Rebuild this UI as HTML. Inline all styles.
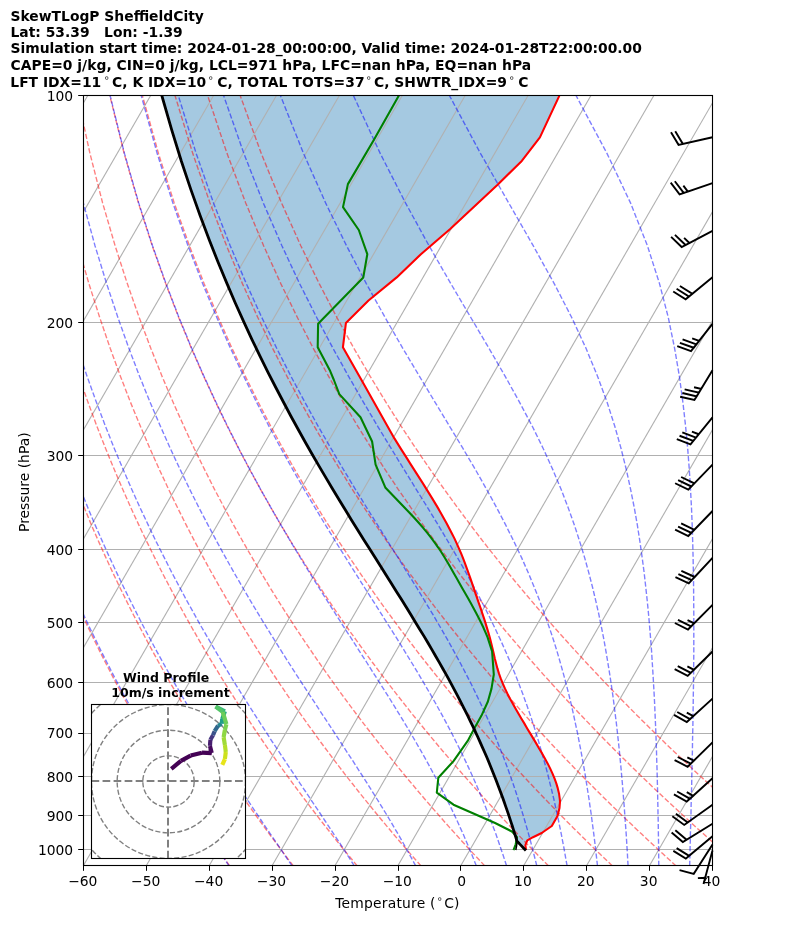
<!DOCTYPE html>
<html><head><meta charset="utf-8"><title>SkewTLogP SheffieldCity</title>
<style>html,body{margin:0;padding:0;background:#fff}svg{display:block}</style></head>
<body><svg width="794" height="937" viewBox="0 0 794 937"><defs><clipPath id="ax"><rect x="83.5" y="95.5" width="629.0" height="770.0"/></clipPath></defs>
<rect x="0" y="0" width="794" height="937" fill="#fff"/>
<g clip-path="url(#ax)">
<polygon points="525.9,850.5 523.7,848.2 521.5,845.9 519.3,843.6 517.0,841.3 515.9,837.5 514.7,833.7 513.5,829.9 512.3,826.0 511.0,822.1 509.7,818.1 508.4,814.1 507.0,810.1 505.5,805.9 504.1,801.8 502.6,797.5 501.0,793.3 499.4,788.9 497.7,784.5 496.0,780.1 494.2,775.6 492.4,771.0 490.5,766.3 488.6,761.6 486.6,756.8 484.5,752.0 482.3,747.1 480.1,742.1 477.8,737.0 475.4,731.8 473.0,726.6 470.4,721.3 467.8,715.9 465.0,710.4 462.2,704.8 459.3,699.1 456.3,693.3 453.1,687.4 449.9,681.4 446.5,675.2 443.0,669.0 439.4,662.6 435.7,656.2 431.9,649.6 427.9,642.8 423.8,635.9 419.5,628.9 415.1,621.7 410.6,614.3 406.0,606.8 401.2,599.1 396.2,591.2 391.1,583.1 385.9,574.8 380.6,566.3 375.1,557.6 369.4,548.6 363.6,539.4 357.7,529.9 351.6,520.2 345.4,510.1 339.1,499.7 332.6,489.0 326.0,477.9 319.2,466.4 312.3,454.5 305.3,442.2 298.1,429.3 290.8,416.0 283.4,402.0 275.8,387.5 268.0,372.3 260.1,356.3 252.0,339.6 243.8,321.9 235.4,303.2 226.9,283.4 218.1,262.3 209.2,239.8 200.1,215.5 190.8,189.4 181.3,161.0 171.7,129.9 161.8,95.5 559.4,95.5 559.4,95.6 539.9,137.4 521.8,160.9 497.6,184.7 450.2,229.0 420.9,254.2 396.7,277.4 368.5,300.5 345.9,323.1 342.9,347.3 361.5,380.0 394.4,438.4 397.5,443.4 400.6,448.4 403.8,453.4 407.0,458.4 410.1,463.4 413.3,468.4 416.5,473.4 419.7,478.4 422.9,483.4 426.0,488.4 429.1,493.4 432.2,498.4 435.2,503.4 438.2,508.4 441.1,513.4 443.9,518.4 446.7,523.4 449.3,528.4 451.9,533.4 454.4,538.4 456.7,543.4 458.9,548.4 461.1,553.4 463.1,558.4 465.0,563.4 466.8,568.4 468.6,573.4 470.4,578.4 472.1,583.4 473.8,588.4 475.5,593.4 477.2,598.4 478.9,603.4 480.7,608.4 482.3,613.4 484.0,618.4 485.6,623.4 487.1,628.4 488.6,633.4 490.0,638.4 491.3,643.4 492.5,648.4 493.7,653.4 494.8,658.4 496.1,663.4 497.4,668.4 498.9,673.4 500.7,678.4 502.7,683.4 504.9,688.4 507.3,693.4 509.9,698.4 512.7,703.4 515.5,708.4 518.4,713.4 521.3,718.4 524.3,723.4 527.2,728.4 530.2,733.4 533.2,738.4 536.2,743.4 539.1,748.4 542.1,753.4 544.9,758.4 547.6,763.4 550.1,768.4 552.4,773.4 554.5,778.4 556.3,783.4 557.8,788.4 559.0,793.4 559.7,798.4 560.0,801.4 559.5,808.0 557.5,815.9 551.8,826.0 541.7,833.0 533.0,837.2 527.3,840.4 525.4,845.2 526.0,850.0" fill="#1f77b4" fill-opacity="0.4" stroke="none"/>
<g stroke="#b0b0b0" stroke-width="1.11" fill="none">
<line x1="-419.70" y1="865.5" x2="24.86" y2="95.5"/>
<line x1="-356.80" y1="865.5" x2="87.76" y2="95.5"/>
<line x1="-293.90" y1="865.5" x2="150.66" y2="95.5"/>
<line x1="-231.00" y1="865.5" x2="213.56" y2="95.5"/>
<line x1="-168.10" y1="865.5" x2="276.46" y2="95.5"/>
<line x1="-105.20" y1="865.5" x2="339.36" y2="95.5"/>
<line x1="-42.30" y1="865.5" x2="402.26" y2="95.5"/>
<line x1="20.60" y1="865.5" x2="465.16" y2="95.5"/>
<line x1="83.50" y1="865.5" x2="528.06" y2="95.5"/>
<line x1="146.40" y1="865.5" x2="590.96" y2="95.5"/>
<line x1="209.30" y1="865.5" x2="653.86" y2="95.5"/>
<line x1="272.20" y1="865.5" x2="716.76" y2="95.5"/>
<line x1="335.10" y1="865.5" x2="779.66" y2="95.5"/>
<line x1="398.00" y1="865.5" x2="842.56" y2="95.5"/>
<line x1="460.90" y1="865.5" x2="905.46" y2="95.5"/>
<line x1="523.80" y1="865.5" x2="968.36" y2="95.5"/>
<line x1="586.70" y1="865.5" x2="1031.26" y2="95.5"/>
<line x1="649.60" y1="865.5" x2="1094.16" y2="95.5"/>
<line x1="712.50" y1="865.5" x2="1157.06" y2="95.5"/>
<line x1="83.5" y1="95.50" x2="712.5" y2="95.50" stroke-width="1"/>
<line x1="83.5" y1="322.50" x2="712.5" y2="322.50" stroke-width="1"/>
<line x1="83.5" y1="455.50" x2="712.5" y2="455.50" stroke-width="1"/>
<line x1="83.5" y1="549.50" x2="712.5" y2="549.50" stroke-width="1"/>
<line x1="83.5" y1="622.50" x2="712.5" y2="622.50" stroke-width="1"/>
<line x1="83.5" y1="682.50" x2="712.5" y2="682.50" stroke-width="1"/>
<line x1="83.5" y1="733.50" x2="712.5" y2="733.50" stroke-width="1"/>
<line x1="83.5" y1="776.50" x2="712.5" y2="776.50" stroke-width="1"/>
<line x1="83.5" y1="815.50" x2="712.5" y2="815.50" stroke-width="1"/>
<line x1="83.5" y1="849.50" x2="712.5" y2="849.50" stroke-width="1"/>
</g>
<g stroke="#ff0000" stroke-opacity="0.5" stroke-width="1.39" fill="none" stroke-dasharray="5.14 2.22">
<polyline points="229.7,865.9 225.3,859.8 220.9,853.6 216.4,847.2 211.9,840.7 207.4,834.1 202.8,827.4 198.2,820.5 193.5,813.5 188.8,806.3 184.0,799.0 179.2,791.5 174.3,783.8 169.4,776.0 164.4,767.9 159.4,759.6 154.3,751.2 149.2,742.5 144.0,733.5 138.7,724.3 133.4,714.9 128.0,705.1 122.5,695.1 117.0,684.8 111.4,674.1 105.7,663.0 99.9,651.6 94.1,639.7 88.2,627.5 82.2,614.7 76.1,601.4 69.9,587.5 63.6,573.1 57.2,557.9 50.8,542.1 44.2,525.4 37.6,507.8 30.8,489.3 24.0,469.6 17.0,448.7 10.0,426.3 2.8,402.3 -4.4,376.4 -11.7,348.3 -19.0,317.5 -26.3,283.6 -33.5,245.7 -40.5,202.9 -47.1,153.6 -53.1,95.5"/>
<polyline points="293.4,865.9 288.7,859.8 284.0,853.6 279.2,847.2 274.3,840.7 269.4,834.1 264.5,827.4 259.5,820.5 254.5,813.5 249.4,806.3 244.2,799.0 239.0,791.5 233.7,783.8 228.4,776.0 223.0,767.9 217.6,759.6 212.0,751.2 206.5,742.5 200.8,733.5 195.1,724.3 189.3,714.9 183.4,705.1 177.5,695.1 171.4,684.8 165.3,674.1 159.1,663.0 152.8,651.6 146.4,639.7 140.0,627.5 133.4,614.7 126.7,601.4 119.9,587.5 113.0,573.1 106.0,557.9 98.9,542.1 91.6,525.4 84.3,507.8 76.7,489.3 69.1,469.6 61.3,448.7 53.4,426.3 45.4,402.3 37.2,376.4 29.0,348.3 20.6,317.5 12.1,283.6 3.7,245.7 -4.7,202.9 -12.9,153.6 -20.5,95.5"/>
<polyline points="357.2,865.9 352.2,859.8 347.1,853.6 341.9,847.2 336.7,840.7 331.5,834.1 326.2,827.4 320.8,820.5 315.4,813.5 309.9,806.3 304.4,799.0 298.8,791.5 293.1,783.8 287.4,776.0 281.6,767.9 275.7,759.6 269.7,751.2 263.7,742.5 257.6,733.5 251.5,724.3 245.2,714.9 238.9,705.1 232.4,695.1 225.9,684.8 219.3,674.1 212.6,663.0 205.7,651.6 198.8,639.7 191.8,627.5 184.6,614.7 177.4,601.4 170.0,587.5 162.4,573.1 154.8,557.9 147.0,542.1 139.0,525.4 130.9,507.8 122.7,489.3 114.3,469.6 105.7,448.7 96.9,426.3 88.0,402.3 78.9,376.4 69.6,348.3 60.1,317.5 50.5,283.6 40.8,245.7 31.1,202.9 21.4,153.6 12.1,95.5"/>
<polyline points="421.0,865.9 415.6,859.8 410.2,853.6 404.7,847.2 399.1,840.7 393.5,834.1 387.9,827.4 382.1,820.5 376.3,813.5 370.5,806.3 364.5,799.0 358.5,791.5 352.5,783.8 346.3,776.0 340.1,767.9 333.8,759.6 327.5,751.2 321.0,742.5 314.5,733.5 307.8,724.3 301.1,714.9 294.3,705.1 287.4,695.1 280.4,684.8 273.2,674.1 266.0,663.0 258.6,651.6 251.2,639.7 243.6,627.5 235.9,614.7 228.0,601.4 220.0,587.5 211.8,573.1 203.5,557.9 195.1,542.1 186.4,525.4 177.6,507.8 168.6,489.3 159.4,469.6 150.0,448.7 140.4,426.3 130.5,402.3 120.5,376.4 110.2,348.3 99.7,317.5 88.9,283.6 77.9,245.7 66.8,202.9 55.7,153.6 44.7,95.5"/>
<polyline points="484.8,865.9 479.1,859.8 473.3,853.6 467.4,847.2 461.5,840.7 455.6,834.1 449.5,827.4 443.4,820.5 437.3,813.5 431.0,806.3 424.7,799.0 418.3,791.5 411.9,783.8 405.3,776.0 398.7,767.9 392.0,759.6 385.2,751.2 378.3,742.5 371.3,733.5 364.2,724.3 357.0,714.9 349.7,705.1 342.3,695.1 334.8,684.8 327.2,674.1 319.4,663.0 311.6,651.6 303.5,639.7 295.4,627.5 287.1,614.7 278.6,601.4 270.0,587.5 261.3,573.1 252.3,557.9 243.2,542.1 233.8,525.4 224.3,507.8 214.5,489.3 204.6,469.6 194.3,448.7 183.9,426.3 173.1,402.3 162.1,376.4 150.8,348.3 139.2,317.5 127.3,283.6 115.1,245.7 102.6,202.9 90.0,153.6 77.3,95.5"/>
<polyline points="548.6,865.9 542.5,859.8 536.4,853.6 530.2,847.2 523.9,840.7 517.6,834.1 511.2,827.4 504.7,820.5 498.2,813.5 491.6,806.3 484.9,799.0 478.1,791.5 471.2,783.8 464.3,776.0 457.2,767.9 450.1,759.6 442.9,751.2 435.6,742.5 428.1,733.5 420.6,724.3 412.9,714.9 405.2,705.1 397.3,695.1 389.3,684.8 381.2,674.1 372.9,663.0 364.5,651.6 355.9,639.7 347.2,627.5 338.3,614.7 329.3,601.4 320.1,587.5 310.7,573.1 301.1,557.9 291.2,542.1 281.2,525.4 271.0,507.8 260.5,489.3 249.7,469.6 238.7,448.7 227.3,426.3 215.7,402.3 203.7,376.4 191.4,348.3 178.7,317.5 165.7,283.6 152.2,245.7 138.4,202.9 124.2,153.6 109.8,95.5"/>
<polyline points="612.4,865.9 606.0,859.8 599.5,853.6 592.9,847.2 586.3,840.7 579.6,834.1 572.9,827.4 566.0,820.5 559.1,813.5 552.1,806.3 545.0,799.0 537.9,791.5 530.6,783.8 523.3,776.0 515.8,767.9 508.2,759.6 500.6,751.2 492.8,742.5 485.0,733.5 477.0,724.3 468.8,714.9 460.6,705.1 452.2,695.1 443.8,684.8 435.1,674.1 426.3,663.0 417.4,651.6 408.3,639.7 399.0,627.5 389.6,614.7 379.9,601.4 370.1,587.5 360.1,573.1 349.8,557.9 339.3,542.1 328.6,525.4 317.6,507.8 306.4,489.3 294.8,469.6 283.0,448.7 270.8,426.3 258.3,402.3 245.4,376.4 232.0,348.3 218.3,317.5 204.1,283.6 189.4,245.7 174.2,202.9 158.5,153.6 142.4,95.5"/>
<polyline points="676.1,865.9 669.4,859.8 662.6,853.6 655.7,847.2 648.7,840.7 641.7,834.1 634.6,827.4 627.4,820.5 620.1,813.5 612.7,806.3 605.2,799.0 597.6,791.5 590.0,783.8 582.2,776.0 574.4,767.9 566.4,759.6 558.3,751.2 550.1,742.5 541.8,733.5 533.3,724.3 524.8,714.9 516.1,705.1 507.2,695.1 498.2,684.8 489.1,674.1 479.8,663.0 470.3,651.6 460.6,639.7 450.8,627.5 440.8,614.7 430.6,601.4 420.1,587.5 409.5,573.1 398.6,557.9 387.4,542.1 376.0,525.4 364.3,507.8 352.3,489.3 340.0,469.6 327.3,448.7 314.3,426.3 300.8,402.3 287.0,376.4 272.6,348.3 257.8,317.5 242.4,283.6 226.5,245.7 210.0,202.9 192.8,153.6 175.0,95.5"/>
<polyline points="739.9,865.9 732.8,859.8 725.7,853.6 718.4,847.2 711.1,840.7 703.7,834.1 696.2,827.4 688.7,820.5 681.0,813.5 673.2,806.3 665.4,799.0 657.4,791.5 649.4,783.8 641.2,776.0 632.9,767.9 624.5,759.6 616.0,751.2 607.4,742.5 598.6,733.5 589.7,724.3 580.7,714.9 571.5,705.1 562.2,695.1 552.7,684.8 543.0,674.1 533.2,663.0 523.2,651.6 513.0,639.7 502.6,627.5 492.0,614.7 481.2,601.4 470.2,587.5 458.9,573.1 447.3,557.9 435.5,542.1 423.4,525.4 411.0,507.8 398.2,489.3 385.1,469.6 371.7,448.7 357.8,426.3 343.4,402.3 328.6,376.4 313.3,348.3 297.4,317.5 280.8,283.6 263.6,245.7 245.7,202.9 227.1,153.6 207.6,95.5"/>
<polyline points="803.7,865.9 796.3,859.8 788.8,853.6 781.2,847.2 773.5,840.7 765.8,834.1 757.9,827.4 750.0,820.5 741.9,813.5 733.8,806.3 725.6,799.0 717.2,791.5 708.7,783.8 700.2,776.0 691.5,767.9 682.7,759.6 673.7,751.2 664.6,742.5 655.4,733.5 646.1,724.3 636.6,714.9 626.9,705.1 617.1,695.1 607.1,684.8 597.0,674.1 586.6,663.0 576.1,651.6 565.4,639.7 554.4,627.5 543.3,614.7 531.9,601.4 520.2,587.5 508.3,573.1 496.1,557.9 483.6,542.1 470.8,525.4 457.7,507.8 444.2,489.3 430.3,469.6 416.0,448.7 401.2,426.3 386.0,402.3 370.2,376.4 353.9,348.3 336.9,317.5 319.2,283.6 300.8,245.7 281.5,202.9 261.3,153.6 240.2,95.5"/>
</g>
<g stroke="#0000ff" stroke-opacity="0.5" stroke-width="1.39" fill="none" stroke-dasharray="5.14 2.22">
<polyline points="229.1,865.9 225.0,859.8 220.8,853.6 216.5,847.2 212.2,840.7 207.8,834.1 203.4,827.4 198.9,820.5 194.3,813.5 189.7,806.3 185.1,799.0 180.3,791.5 175.5,783.8 170.7,776.0 165.7,767.9 160.8,759.6 155.7,751.2 150.6,742.5 145.4,733.5 140.2,724.3 134.8,714.9 129.5,705.1 124.0,695.1 118.5,684.8 112.9,674.1 107.2,663.0 101.4,651.6 95.6,639.7 89.6,627.5 83.6,614.7 77.5,601.4 71.3,587.5 65.0,573.1 58.6,557.9 52.2,542.1 45.6,525.4 38.9,507.8 32.1,489.3 25.2,469.6 18.3,448.7 11.2,426.3 4.0,402.3 -3.2,376.4 -10.5,348.3 -17.8,317.5 -25.2,283.6 -32.4,245.7 -39.5,202.9 -46.2,153.6 -52.1,95.5"/>
<polyline points="292.1,865.9 287.9,859.8 283.7,853.6 279.4,847.2 275.0,840.7 270.5,834.1 265.9,827.4 261.3,820.5 256.6,813.5 251.8,806.3 246.9,799.0 241.9,791.5 236.8,783.8 231.7,776.0 226.4,767.9 221.1,759.6 215.7,751.2 210.2,742.5 204.7,733.5 199.0,724.3 193.3,714.9 187.4,705.1 181.5,695.1 175.5,684.8 169.4,674.1 163.2,663.0 156.9,651.6 150.5,639.7 144.0,627.5 137.4,614.7 130.7,601.4 123.8,587.5 116.9,573.1 109.8,557.9 102.7,542.1 95.3,525.4 87.9,507.8 80.4,489.3 72.7,469.6 64.8,448.7 56.8,426.3 48.7,402.3 40.5,376.4 32.1,348.3 23.7,317.5 15.1,283.6 6.6,245.7 -1.9,202.9 -10.2,153.6 -17.9,95.5"/>
<polyline points="354.3,865.9 350.5,859.8 346.5,853.6 342.4,847.2 338.2,840.7 333.8,834.1 329.4,827.4 324.8,820.5 320.2,813.5 315.4,806.3 310.5,799.0 305.5,791.5 300.3,783.8 295.1,776.0 289.7,767.9 284.2,759.6 278.6,751.2 272.8,742.5 267.0,733.5 261.0,724.3 254.9,714.9 248.7,705.1 242.4,695.1 235.9,684.8 229.3,674.1 222.6,663.0 215.8,651.6 208.9,639.7 201.8,627.5 194.6,614.7 187.2,601.4 179.8,587.5 172.1,573.1 164.4,557.9 156.4,542.1 148.4,525.4 140.1,507.8 131.7,489.3 123.2,469.6 114.4,448.7 105.5,426.3 96.4,402.3 87.1,376.4 77.6,348.3 67.9,317.5 58.1,283.6 48.1,245.7 38.1,202.9 28.2,153.6 18.5,95.5"/>
<polyline points="415.7,865.9 412.4,859.8 409.0,853.6 405.5,847.2 401.9,840.7 398.1,834.1 394.1,827.4 390.1,820.5 385.9,813.5 381.5,806.3 377.0,799.0 372.3,791.5 367.5,783.8 362.5,776.0 357.3,767.9 352.0,759.6 346.4,751.2 340.8,742.5 334.9,733.5 328.9,724.3 322.6,714.9 316.3,705.1 309.7,695.1 303.0,684.8 296.0,674.1 288.9,663.0 281.7,651.6 274.2,639.7 266.6,627.5 258.8,614.7 250.8,601.4 242.7,587.5 234.3,573.1 225.8,557.9 217.1,542.1 208.2,525.4 199.0,507.8 189.7,489.3 180.2,469.6 170.4,448.7 160.4,426.3 150.1,402.3 139.6,376.4 128.9,348.3 117.9,317.5 106.6,283.6 95.0,245.7 83.3,202.9 71.5,153.6 59.7,95.5"/>
<polyline points="476.4,865.9 473.9,859.8 471.4,853.6 468.8,847.2 466.0,840.7 463.2,834.1 460.1,827.4 457.0,820.5 453.7,813.5 450.3,806.3 446.7,799.0 442.9,791.5 438.9,783.8 434.8,776.0 430.4,767.9 425.9,759.6 421.1,751.2 416.1,742.5 410.9,733.5 405.4,724.3 399.7,714.9 393.7,705.1 387.5,695.1 380.9,684.8 374.1,674.1 367.1,663.0 359.7,651.6 352.1,639.7 344.2,627.5 336.0,614.7 327.6,601.4 318.8,587.5 309.8,573.1 300.5,557.9 291.0,542.1 281.1,525.4 271.0,507.8 260.6,489.3 249.9,469.6 238.9,448.7 227.6,426.3 216.0,402.3 204.0,376.4 191.7,348.3 179.0,317.5 166.0,283.6 152.5,245.7 138.7,202.9 124.5,153.6 110.1,95.5"/>
<polyline points="506.6,865.9 504.6,859.8 502.6,853.6 500.4,847.2 498.2,840.7 495.9,834.1 493.4,827.4 490.8,820.5 488.1,813.5 485.3,806.3 482.3,799.0 479.2,791.5 475.9,783.8 472.4,776.0 468.7,767.9 464.8,759.6 460.8,751.2 456.4,742.5 451.9,733.5 447.0,724.3 442.0,714.9 436.6,705.1 430.9,695.1 424.9,684.8 418.6,674.1 411.9,663.0 404.9,651.6 397.6,639.7 389.9,627.5 381.8,614.7 373.4,601.4 364.5,587.5 355.4,573.1 345.8,557.9 335.9,542.1 325.7,525.4 315.1,507.8 304.1,489.3 292.8,469.6 281.1,448.7 269.0,426.3 256.6,402.3 243.8,376.4 230.5,348.3 216.8,317.5 202.6,283.6 188.0,245.7 172.8,202.9 157.2,153.6 141.2,95.5"/>
<polyline points="536.8,865.9 535.3,859.8 533.7,853.6 532.1,847.2 530.4,840.7 528.6,834.1 526.7,827.4 524.7,820.5 522.6,813.5 520.4,806.3 518.1,799.0 515.7,791.5 513.1,783.8 510.4,776.0 507.5,767.9 504.4,759.6 501.1,751.2 497.7,742.5 494.0,733.5 490.1,724.3 485.9,714.9 481.4,705.1 476.6,695.1 471.6,684.8 466.1,674.1 460.3,663.0 454.1,651.6 447.5,639.7 440.5,627.5 433.0,614.7 425.0,601.4 416.6,587.5 407.6,573.1 398.2,557.9 388.2,542.1 377.8,525.4 366.8,507.8 355.4,489.3 343.5,469.6 331.1,448.7 318.2,426.3 304.9,402.3 291.0,376.4 276.7,348.3 261.8,317.5 246.3,283.6 230.2,245.7 213.5,202.9 196.2,153.6 178.3,95.5"/>
<polyline points="567.1,865.9 566.0,859.8 564.9,853.6 563.8,847.2 562.5,840.7 561.3,834.1 559.9,827.4 558.5,820.5 557.0,813.5 555.4,806.3 553.8,799.0 552.0,791.5 550.1,783.8 548.2,776.0 546.1,767.9 543.8,759.6 541.4,751.2 538.9,742.5 536.2,733.5 533.3,724.3 530.2,714.9 526.8,705.1 523.2,695.1 519.3,684.8 515.1,674.1 510.6,663.0 505.7,651.6 500.4,639.7 494.6,627.5 488.4,614.7 481.6,601.4 474.2,587.5 466.3,573.1 457.6,557.9 448.4,542.1 438.4,525.4 427.7,507.8 416.2,489.3 404.1,469.6 391.3,448.7 377.7,426.3 363.5,402.3 348.6,376.4 333.0,348.3 316.7,317.5 299.6,283.6 281.9,245.7 263.3,202.9 243.9,153.6 223.6,95.5"/>
<polyline points="597.5,865.9 596.8,859.8 596.1,853.6 595.4,847.2 594.6,840.7 593.8,834.1 592.9,827.4 592.0,820.5 591.1,813.5 590.0,806.3 589.0,799.0 587.8,791.5 586.6,783.8 585.4,776.0 584.0,767.9 582.5,759.6 581.0,751.2 579.3,742.5 577.6,733.5 575.6,724.3 573.6,714.9 571.4,705.1 569.0,695.1 566.4,684.8 563.5,674.1 560.4,663.0 557.1,651.6 553.4,639.7 549.3,627.5 544.8,614.7 539.9,601.4 534.4,587.5 528.4,573.1 521.7,557.9 514.2,542.1 505.9,525.4 496.7,507.8 486.6,489.3 475.4,469.6 463.1,448.7 449.6,426.3 435.1,402.3 419.5,376.4 402.8,348.3 385.1,317.5 366.3,283.6 346.5,245.7 325.6,202.9 303.6,153.6 280.4,95.5"/>
<polyline points="628.1,865.9 627.7,859.8 627.4,853.6 627.0,847.2 626.6,840.7 626.2,834.1 625.7,827.4 625.2,820.5 624.7,813.5 624.2,806.3 623.6,799.0 623.0,791.5 622.4,783.8 621.7,776.0 621.0,767.9 620.2,759.6 619.4,751.2 618.5,742.5 617.5,733.5 616.5,724.3 615.3,714.9 614.1,705.1 612.8,695.1 611.3,684.8 609.7,674.1 607.9,663.0 606.0,651.6 603.9,639.7 601.5,627.5 598.9,614.7 595.9,601.4 592.6,587.5 588.9,573.1 584.7,557.9 579.9,542.1 574.5,525.4 568.2,507.8 561.1,489.3 552.8,469.6 543.3,448.7 532.3,426.3 519.6,402.3 505.2,376.4 489.0,348.3 470.8,317.5 450.8,283.6 429.0,245.7 405.5,202.9 380.3,153.6 353.4,95.5"/>
<polyline points="658.8,865.9 658.7,859.8 658.7,853.6 658.6,847.2 658.5,840.7 658.4,834.1 658.3,827.4 658.2,820.5 658.0,813.5 657.9,806.3 657.7,799.0 657.6,791.5 657.4,783.8 657.2,776.0 657.0,767.9 656.7,759.6 656.5,751.2 656.2,742.5 655.9,733.5 655.5,724.3 655.1,714.9 654.7,705.1 654.2,695.1 653.6,684.8 653.0,674.1 652.3,663.0 651.6,651.6 650.7,639.7 649.7,627.5 648.6,614.7 647.3,601.4 645.8,587.5 644.2,573.1 642.2,557.9 640.0,542.1 637.4,525.4 634.3,507.8 630.6,489.3 626.3,469.6 621.1,448.7 614.8,426.3 607.1,402.3 597.6,376.4 586.0,348.3 571.7,317.5 554.2,283.6 533.2,245.7 508.7,202.9 480.6,153.6 449.4,95.5"/>
<polyline points="689.7,865.9 689.8,859.8 690.0,853.6 690.1,847.2 690.3,840.7 690.4,834.1 690.6,827.4 690.8,820.5 691.0,813.5 691.1,806.3 691.3,799.0 691.5,791.5 691.7,783.8 691.8,776.0 692.0,767.9 692.2,759.6 692.4,751.2 692.5,742.5 692.7,733.5 692.9,724.3 693.0,714.9 693.2,705.1 693.3,695.1 693.5,684.8 693.6,674.1 693.7,663.0 693.8,651.6 693.8,639.7 693.8,627.5 693.8,614.7 693.7,601.4 693.6,587.5 693.4,573.1 693.1,557.9 692.7,542.1 692.2,525.4 691.5,507.8 690.5,489.3 689.3,469.6 687.7,448.7 685.6,426.3 682.9,402.3 679.4,376.4 674.6,348.3 668.3,317.5 659.5,283.6 647.4,245.7 630.5,202.9 607.1,153.6 576.0,95.5"/>
<polyline points="720.6,865.9 721.0,859.8 721.3,853.6 721.7,847.2 722.0,840.7 722.4,834.1 722.8,827.4 723.1,820.5 723.5,813.5 724.0,806.3 724.4,799.0 724.8,791.5 725.3,783.8 725.7,776.0 726.2,767.9 726.7,759.6 727.2,751.2 727.7,742.5 728.3,733.5 728.8,724.3 729.4,714.9 730.0,705.1 730.6,695.1 731.2,684.8 731.8,674.1 732.5,663.0 733.2,651.6 733.9,639.7 734.6,627.5 735.3,614.7 736.1,601.4 736.8,587.5 737.6,573.1 738.4,557.9 739.2,542.1 740.0,525.4 740.9,507.8 741.6,489.3 742.4,469.6 743.1,448.7 743.7,426.3 744.3,402.3 744.6,376.4 744.6,348.3 744.1,317.5 742.9,283.6 740.6,245.7 736.4,202.9 728.8,153.6 715.1,95.5"/>
<polyline points="751.7,865.9 752.2,859.8 752.7,853.6 753.2,847.2 753.7,840.7 754.2,834.1 754.7,827.4 755.3,820.5 755.9,813.5 756.4,806.3 757.1,799.0 757.7,791.5 758.3,783.8 759.0,776.0 759.7,767.9 760.4,759.6 761.2,751.2 761.9,742.5 762.7,733.5 763.6,724.3 764.4,714.9 765.3,705.1 766.2,695.1 767.2,684.8 768.2,674.1 769.2,663.0 770.3,651.6 771.5,639.7 772.7,627.5 773.9,614.7 775.2,601.4 776.6,587.5 778.0,573.1 779.5,557.9 781.1,542.1 782.8,525.4 784.5,507.8 786.4,489.3 788.3,469.6 790.4,448.7 792.6,426.3 794.9,402.3 797.4,376.4 800.0,348.3 802.8,317.5 805.6,283.6 808.5,245.7 811.4,202.9 813.9,153.6 815.5,95.5"/>
<polyline points="782.9,865.9 783.5,859.8 784.1,853.6 784.7,847.2 785.3,840.7 785.9,834.1 786.6,827.4 787.2,820.5 787.9,813.5 788.6,806.3 789.4,799.0 790.2,791.5 790.9,783.8 791.8,776.0 792.6,767.9 793.5,759.6 794.4,751.2 795.3,742.5 796.3,733.5 797.3,724.3 798.4,714.9 799.5,705.1 800.7,695.1 801.9,684.8 803.1,674.1 804.4,663.0 805.8,651.6 807.2,639.7 808.7,627.5 810.3,614.7 812.0,601.4 813.7,587.5 815.6,573.1 817.5,557.9 819.6,542.1 821.8,525.4 824.1,507.8 826.6,489.3 829.3,469.6 832.2,448.7 835.3,426.3 838.7,402.3 842.4,376.4 846.4,348.3 850.8,317.5 855.7,283.6 861.2,245.7 867.4,202.9 874.4,153.6 882.5,95.5"/>
</g>
<polyline points="559.4,95.6 539.9,137.4 521.8,160.9 497.6,184.7 450.2,229.0 420.9,254.2 396.7,277.4 368.5,300.5 345.9,323.1 342.9,347.3 361.5,380.0 394.4,438.4 397.5,443.4 400.6,448.4 403.8,453.4 407.0,458.4 410.1,463.4 413.3,468.4 416.5,473.4 419.7,478.4 422.9,483.4 426.0,488.4 429.1,493.4 432.2,498.4 435.2,503.4 438.2,508.4 441.1,513.4 443.9,518.4 446.7,523.4 449.3,528.4 451.9,533.4 454.4,538.4 456.7,543.4 458.9,548.4 461.1,553.4 463.1,558.4 465.0,563.4 466.8,568.4 468.6,573.4 470.4,578.4 472.1,583.4 473.8,588.4 475.5,593.4 477.2,598.4 478.9,603.4 480.7,608.4 482.3,613.4 484.0,618.4 485.6,623.4 487.1,628.4 488.6,633.4 490.0,638.4 491.3,643.4 492.5,648.4 493.7,653.4 494.8,658.4 496.1,663.4 497.4,668.4 498.9,673.4 500.7,678.4 502.7,683.4 504.9,688.4 507.3,693.4 509.9,698.4 512.7,703.4 515.5,708.4 518.4,713.4 521.3,718.4 524.3,723.4 527.2,728.4 530.2,733.4 533.2,738.4 536.2,743.4 539.1,748.4 542.1,753.4 544.9,758.4 547.6,763.4 550.1,768.4 552.4,773.4 554.5,778.4 556.3,783.4 557.8,788.4 559.0,793.4 559.7,798.4 560.0,801.4 559.5,808.0 557.5,815.9 551.8,826.0 541.7,833.0 533.0,837.2 527.3,840.4 525.4,845.2 526.0,850.0" fill="none" stroke="#ff0000" stroke-width="2.08" stroke-linejoin="round"/>
<polyline points="398.9,95.5 373.8,139.9 347.9,184.1 343.0,207.1 358.8,230.0 367.3,254.2 363.3,277.4 318.1,323.7 317.7,347.3 330.2,371.1 333.9,380.0 339.3,394.1 360.5,417.3 372.1,441.5 375.6,464.6 385.5,487.8 390.3,492.8 395.1,497.8 399.9,502.8 404.7,507.8 409.5,512.8 414.2,517.8 418.7,522.8 423.1,527.8 427.3,532.8 431.2,537.8 434.9,542.8 438.4,547.8 441.7,552.8 444.8,557.8 447.8,562.8 450.7,567.8 453.5,572.8 456.4,577.8 459.2,582.8 462.0,587.8 464.9,592.8 467.8,597.8 470.6,602.8 473.3,607.8 476.0,612.8 478.6,617.8 481.1,622.8 483.5,627.8 485.7,632.8 487.6,637.4 492.1,651.5 493.8,674.5 491.5,688.6 487.9,701.5 481.5,715.6 475.1,727.1 467.7,740.9 453.5,761.1 438.3,777.8 436.8,792.6 453.5,804.7 495.1,823.0 512.3,831.7 517.0,837.2 515.7,844.3 513.5,850.2" fill="none" stroke="#008000" stroke-width="2.08" stroke-linejoin="round"/>
<polyline points="525.9,850.5 523.7,848.2 521.5,845.9 519.3,843.6 517.0,841.3 515.9,837.5 514.7,833.7 513.5,829.9 512.3,826.0 511.0,822.1 509.7,818.1 508.4,814.1 507.0,810.1 505.5,805.9 504.1,801.8 502.6,797.5 501.0,793.3 499.4,788.9 497.7,784.5 496.0,780.1 494.2,775.6 492.4,771.0 490.5,766.3 488.6,761.6 486.6,756.8 484.5,752.0 482.3,747.1 480.1,742.1 477.8,737.0 475.4,731.8 473.0,726.6 470.4,721.3 467.8,715.9 465.0,710.4 462.2,704.8 459.3,699.1 456.3,693.3 453.1,687.4 449.9,681.4 446.5,675.2 443.0,669.0 439.4,662.6 435.7,656.2 431.9,649.6 427.9,642.8 423.8,635.9 419.5,628.9 415.1,621.7 410.6,614.3 406.0,606.8 401.2,599.1 396.2,591.2 391.1,583.1 385.9,574.8 380.6,566.3 375.1,557.6 369.4,548.6 363.6,539.4 357.7,529.9 351.6,520.2 345.4,510.1 339.1,499.7 332.6,489.0 326.0,477.9 319.2,466.4 312.3,454.5 305.3,442.2 298.1,429.3 290.8,416.0 283.4,402.0 275.8,387.5 268.0,372.3 260.1,356.3 252.0,339.6 243.8,321.9 235.4,303.2 226.9,283.4 218.1,262.3 209.2,239.8 200.1,215.5 190.8,189.4 181.3,161.0 171.7,129.9 161.8,95.5" fill="none" stroke="#000" stroke-width="2.78" stroke-linejoin="round" stroke-linecap="butt"/>
<line x1="517.3" y1="841.5" x2="515.8" y2="850.0" stroke="#000" stroke-width="1.5"/>
</g>
<rect x="83.5" y="95.5" width="629.0" height="770.0" fill="none" stroke="#000" stroke-width="1.11"/>
<g stroke="#000" stroke-width="1.11">
<line x1="78.20" y1="95.50" x2="83.5" y2="95.50" stroke-width="1"/>
<line x1="78.20" y1="322.50" x2="83.5" y2="322.50" stroke-width="1"/>
<line x1="78.20" y1="455.50" x2="83.5" y2="455.50" stroke-width="1"/>
<line x1="78.20" y1="549.50" x2="83.5" y2="549.50" stroke-width="1"/>
<line x1="78.20" y1="622.50" x2="83.5" y2="622.50" stroke-width="1"/>
<line x1="78.20" y1="682.50" x2="83.5" y2="682.50" stroke-width="1"/>
<line x1="78.20" y1="733.50" x2="83.5" y2="733.50" stroke-width="1"/>
<line x1="78.20" y1="776.50" x2="83.5" y2="776.50" stroke-width="1"/>
<line x1="78.20" y1="815.50" x2="83.5" y2="815.50" stroke-width="1"/>
<line x1="78.20" y1="849.50" x2="83.5" y2="849.50" stroke-width="1"/>
<line x1="83.50" y1="865.5" x2="83.50" y2="870.80" stroke-width="1"/>
<line x1="146.50" y1="865.5" x2="146.50" y2="870.80" stroke-width="1"/>
<line x1="209.50" y1="865.5" x2="209.50" y2="870.80" stroke-width="1"/>
<line x1="272.50" y1="865.5" x2="272.50" y2="870.80" stroke-width="1"/>
<line x1="335.50" y1="865.5" x2="335.50" y2="870.80" stroke-width="1"/>
<line x1="398.50" y1="865.5" x2="398.50" y2="870.80" stroke-width="1"/>
<line x1="460.50" y1="865.5" x2="460.50" y2="870.80" stroke-width="1"/>
<line x1="523.50" y1="865.5" x2="523.50" y2="870.80" stroke-width="1"/>
<line x1="586.50" y1="865.5" x2="586.50" y2="870.80" stroke-width="1"/>
<line x1="649.50" y1="865.5" x2="649.50" y2="870.80" stroke-width="1"/>
<line x1="712.50" y1="865.5" x2="712.50" y2="870.80" stroke-width="1"/>
</g>
<g font-family="'DejaVu Sans', 'Liberation Sans', sans-serif" font-size="13.89" fill="#000">
<text x="73.20" y="100.77" text-anchor="end">100</text>
<text x="73.20" y="327.87" text-anchor="end">200</text>
<text x="73.20" y="460.71" text-anchor="end">300</text>
<text x="73.20" y="554.96" text-anchor="end">400</text>
<text x="73.20" y="628.07" text-anchor="end">500</text>
<text x="73.20" y="687.81" text-anchor="end">600</text>
<text x="73.20" y="738.31" text-anchor="end">700</text>
<text x="73.20" y="782.06" text-anchor="end">800</text>
<text x="73.20" y="820.65" text-anchor="end">900</text>
<text x="73.20" y="855.17" text-anchor="end">1000</text>
<text x="82.80" y="886.22" text-anchor="middle">−60</text>
<text x="145.70" y="886.22" text-anchor="middle">−50</text>
<text x="208.60" y="886.22" text-anchor="middle">−40</text>
<text x="271.50" y="886.22" text-anchor="middle">−30</text>
<text x="334.40" y="886.22" text-anchor="middle">−20</text>
<text x="397.30" y="886.22" text-anchor="middle">−10</text>
<text x="461.60" y="886.22" text-anchor="middle">0</text>
<text x="522.90" y="886.22" text-anchor="middle">10</text>
<text x="585.80" y="886.22" text-anchor="middle">20</text>
<text x="648.70" y="886.22" text-anchor="middle">30</text>
<text x="711.60" y="886.22" text-anchor="middle">40</text>
<text x="335.3" y="907.6" textLength="100.2" lengthAdjust="spacing">Temperature (</text><text x="436.86" y="901.9" font-size="9.72">∘</text><text x="444.2" y="907.6">C)</text>
<text transform="translate(29.3,482.2) rotate(-90)" text-anchor="middle">Pressure (hPa)</text>
</g>
<g stroke="#000" stroke-width="1.9" fill="none" stroke-linejoin="miter" stroke-miterlimit="4" stroke-linecap="butt">
<path d="M712.50,137.20L678.55,144.81L678.55,144.81L671.00,132.24L678.55,144.81L682.80,143.86L675.24,131.29L682.80,143.86L712.50,137.20"/>
<path d="M712.50,183.10L679.57,194.34L679.57,194.34L670.71,182.66L679.57,194.34L683.69,192.93L674.82,181.25L683.69,192.93L687.81,191.53L683.37,185.69L687.81,191.53L712.50,183.10"/>
<path d="M712.50,230.90L681.67,247.02L681.67,247.02L671.13,236.83L681.67,247.02L685.53,245.01L674.98,234.82L685.53,245.01L689.38,242.99L684.11,237.90L689.38,242.99L712.50,230.90"/>
<path d="M712.50,277.20L685.64,299.31L685.64,299.31L673.23,291.51L685.64,299.31L689.00,296.55L676.59,288.74L689.00,296.55L692.36,293.78L679.94,285.98L692.36,293.78L712.50,277.20"/>
<path d="M712.50,323.80L691.02,351.17L691.02,351.17L677.22,346.22L691.02,351.17L693.71,347.75L679.91,342.79L693.71,347.75L696.39,344.33L682.59,339.37L696.39,344.33L699.08,340.91L692.18,338.43L699.08,340.91L712.50,323.80"/>
<path d="M712.50,370.30L694.42,400.02L694.42,400.02L680.13,396.74L694.42,400.02L696.68,396.31L682.39,393.03L696.68,396.31L698.94,392.59L684.65,389.31L698.94,392.59L701.20,388.88L694.05,387.24L701.20,388.88L712.50,370.30"/>
<path d="M712.50,417.40L690.50,444.35L690.50,444.35L676.79,439.13L690.50,444.35L693.25,440.98L679.54,435.76L693.25,440.98L696.00,437.61L682.30,432.39L696.00,437.61L698.75,434.24L691.90,431.63L698.75,434.24L712.50,417.40"/>
<path d="M712.50,464.60L688.31,489.61L688.31,489.61L675.10,483.26L688.31,489.61L691.34,486.48L678.12,480.13L691.34,486.48L694.36,483.36L681.14,477.00L694.36,483.36L712.50,464.60"/>
<path d="M712.50,511.00L688.31,536.00L688.31,536.00L675.09,529.64L688.31,536.00L691.33,532.88L678.12,526.52L691.33,532.88L694.35,529.75L681.14,523.39L694.35,529.75L712.50,511.00"/>
<path d="M712.50,557.90L688.77,583.34L688.77,583.34L675.44,577.23L688.77,583.34L691.74,580.16L678.41,574.05L691.74,580.16L694.70,576.98L681.38,570.87L694.70,576.98L712.50,557.90"/>
<path d="M712.50,604.80L688.00,629.50L688.00,629.50L674.87,622.98L688.00,629.50L691.06,626.41L677.93,619.90L691.06,626.41L694.13,623.33L687.56,620.07L694.13,623.33L712.50,604.80"/>
<path d="M712.50,651.50L687.70,675.90L687.70,675.90L674.65,669.22L687.70,675.90L690.80,672.85L677.75,666.17L690.80,672.85L693.90,669.80L687.37,666.46L693.90,669.80L712.50,651.50"/>
<path d="M712.50,698.60L686.80,722.05L686.80,722.05L674.01,714.89L686.80,722.05L690.02,719.12L677.22,711.96L690.02,719.12L693.23,716.19L686.83,712.61L693.23,716.19L712.50,698.60"/>
<path d="M712.50,742.40L687.65,766.75L687.65,766.75L674.61,760.04L687.65,766.75L690.75,763.70L677.71,757.00L690.75,763.70L693.86,760.66L687.34,757.31L693.86,760.66L712.50,742.40"/>
<path d="M712.50,778.30L686.71,801.65L686.71,801.65L673.94,794.43L686.71,801.65L689.93,798.73L677.17,791.51L689.93,798.73L693.16,795.81L686.77,792.20L693.16,795.81L712.50,778.30"/>
<path d="M712.50,804.70L684.20,824.94L684.20,824.94L672.35,816.31L684.20,824.94L687.74,822.41L675.89,813.78L687.74,822.41L712.50,804.70"/>
<path d="M712.50,823.80L682.83,841.97L682.83,841.97L671.62,832.52L682.83,841.97L686.54,839.70L675.33,830.25L686.54,839.70L712.50,823.80"/>
<path d="M712.50,836.30L685.81,858.61L685.81,858.61L673.34,850.90L685.81,858.61L689.14,855.82L676.67,848.11L689.14,855.82L712.50,836.30"/>
<path d="M712.50,844.50L693.74,873.80L693.74,873.80L679.53,870.18L693.74,873.80L712.50,844.50"/>
<path d="M712.50,850.40L703.51,884.01L705.20,877.71L697.88,878.14L705.20,877.71L712.50,850.40"/>
</g>
<defs><clipPath id="in"><rect x="91.5" y="704.5" width="154.0" height="154.0"/></clipPath></defs>
<rect x="91.5" y="704.5" width="154.0" height="154.0" fill="#fff"/>
<g clip-path="url(#in)">
<circle transform="translate(168.50,781.50) scale(1,-1)" cx="0" cy="0" r="25.67" fill="none" stroke="#808080" stroke-width="1.39" stroke-dasharray="5.14 2.22"/>
<circle transform="translate(168.50,781.50) scale(1,-1)" cx="0" cy="0" r="51.33" fill="none" stroke="#808080" stroke-width="1.39" stroke-dasharray="5.14 2.22"/>
<circle transform="translate(168.50,781.50) scale(1,-1)" cx="0" cy="0" r="77.00" fill="none" stroke="#808080" stroke-width="1.39" stroke-dasharray="5.14 2.22"/>
<circle transform="translate(168.50,781.50) scale(1,-1)" cx="0" cy="0" r="102.67" fill="none" stroke="#808080" stroke-width="1.39" stroke-dasharray="5.14 2.22"/>
<line x1="168.00" y1="858.5" x2="168.00" y2="704.5" stroke="#808080" stroke-width="2" stroke-dasharray="7.71 3.33"/>
<line x1="91.5" y1="781.00" x2="245.5" y2="781.00" stroke="#808080" stroke-width="2" stroke-dasharray="7.71 3.33"/>
<line x1="171.3" y1="768.8" x2="180.9" y2="760.9" stroke="#440154" stroke-width="4.17" stroke-linecap="butt"/>
<line x1="180.9" y1="760.9" x2="190.6" y2="755.6" stroke="#440154" stroke-width="4.17" stroke-linecap="butt"/>
<line x1="190.6" y1="755.6" x2="202.0" y2="752.7" stroke="#440154" stroke-width="4.17" stroke-linecap="butt"/>
<line x1="202.0" y1="752.7" x2="211.7" y2="753.1" stroke="#440154" stroke-width="4.17" stroke-linecap="butt"/>
<line x1="211.7" y1="753.1" x2="210.0" y2="745.9" stroke="#46085c" stroke-width="4.17" stroke-linecap="butt"/>
<line x1="210.0" y1="745.9" x2="210.4" y2="739.7" stroke="#481f70" stroke-width="4.17" stroke-linecap="butt"/>
<line x1="210.4" y1="739.7" x2="213.0" y2="735.3" stroke="#453781" stroke-width="4.17" stroke-linecap="butt"/>
<line x1="213.0" y1="735.3" x2="214.6" y2="731.2" stroke="#3b528b" stroke-width="4.17" stroke-linecap="butt"/>
<line x1="214.6" y1="731.2" x2="218.1" y2="725.7" stroke="#31688e" stroke-width="4.17" stroke-linecap="butt"/>
<line x1="218.1" y1="725.7" x2="221.7" y2="723.7" stroke="#26828e" stroke-width="4.17" stroke-linecap="butt"/>
<line x1="221.7" y1="723.7" x2="222.2" y2="719.1" stroke="#1f9e89" stroke-width="4.17" stroke-linecap="butt"/>
<line x1="222.2" y1="719.1" x2="224.9" y2="711.3" stroke="#22a884" stroke-width="4.17" stroke-linecap="butt"/>
<line x1="224.9" y1="711.3" x2="215.6" y2="706.5" stroke="#35b779" stroke-width="4.17" stroke-linecap="butt"/>
<line x1="215.6" y1="706.5" x2="222.7" y2="711.8" stroke="#54c568" stroke-width="4.17" stroke-linecap="butt"/>
<line x1="222.7" y1="711.8" x2="226.4" y2="724.2" stroke="#6ccd5a" stroke-width="4.17" stroke-linecap="butt"/>
<line x1="226.4" y1="724.2" x2="224.9" y2="730.0" stroke="#7ad151" stroke-width="4.17" stroke-linecap="butt"/>
<line x1="224.9" y1="730.0" x2="223.6" y2="737.1" stroke="#8fd744" stroke-width="4.17" stroke-linecap="butt"/>
<line x1="223.6" y1="737.1" x2="224.9" y2="745.0" stroke="#a0da39" stroke-width="4.17" stroke-linecap="butt"/>
<line x1="224.9" y1="745.0" x2="225.8" y2="752.0" stroke="#b5de2b" stroke-width="4.17" stroke-linecap="butt"/>
<line x1="225.8" y1="752.0" x2="224.9" y2="759.1" stroke="#cde11d" stroke-width="4.17" stroke-linecap="butt"/>
<line x1="224.9" y1="759.1" x2="222.3" y2="764.8" stroke="#e7e419" stroke-width="4.17" stroke-linecap="butt"/>
</g>
<rect x="91.5" y="704.5" width="154.0" height="154.0" fill="none" stroke="#000" stroke-width="1.11"/>
<g font-family="'DejaVu Sans', 'Liberation Sans', sans-serif" font-weight="bold" font-size="12.5" fill="#000" text-anchor="middle">
<text x="166.1" y="681.5">Wind Profile</text><text x="170.5" y="696.7">10m/s increment</text></g>
<g font-family="'DejaVu Sans', 'Liberation Sans', sans-serif" font-weight="bold" font-size="13.89" fill="#000">
<text x="10.5" y="20.8" style="white-space:pre">SkewTLogP SheffieldCity</text>
<text x="10.5" y="36.9" style="white-space:pre">Lat: 53.39   Lon: -1.39</text>
<text x="10.5" y="53.0" style="white-space:pre" textLength="631.4" lengthAdjust="spacing">Simulation start time: 2024-01-28_00:00:00, Valid time: 2024-01-28T22:00:00.00</text>
<text x="10.5" y="70.0" style="white-space:pre" textLength="520.7" lengthAdjust="spacing">CAPE=0 j/kg, CIN=0 j/kg, LCL=971 hPa, LFC=nan hPa, EQ=nan hPa</text>
<text x="10.3" y="87.1">LFT IDX=11</text>
<text x="103.86" y="81.1" font-weight="normal" font-size="9.72">∘</text>
<text x="112.1" y="87.1">C, K IDX=10</text>
<text x="207.86" y="81.1" font-weight="normal" font-size="9.72">∘</text>
<text x="217.2" y="87.1" textLength="147.5" lengthAdjust="spacing">C, TOTAL TOTS=37</text>
<text x="365.76" y="81.1" font-weight="normal" font-size="9.72">∘</text>
<text x="374.0" y="87.1">C, SHWTR_IDX=9</text>
<text x="508.86" y="81.1" font-weight="normal" font-size="9.72">∘</text>
<text x="518.2" y="87.1">C</text>
</g></svg></body></html>
